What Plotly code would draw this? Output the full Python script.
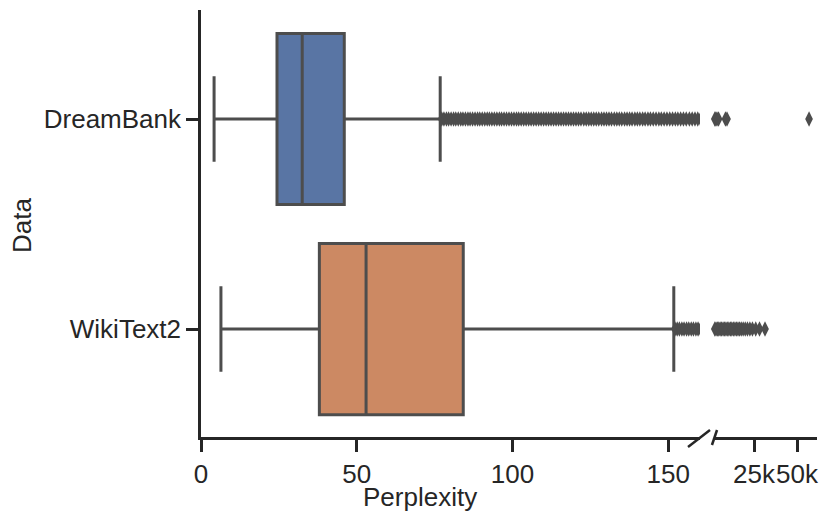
import plotly.graph_objects as go

# categories and box statistics
datasets = ["DreamBank", "WikiText2"]
q1 = [24.4, 38.0]
medians = [32.5, 53.0]
q3 = [46.0, 84.2]
lower_whisker = [4.2, 6.4]
upper_whisker = [76.8, 151.8]

# outliers below the axis break (perplexity 0-160)
dreambank_out_low = [77.3, 78.0, 78.8, 79.5, 80.3, 81.1, 81.8, 82.6, 83.4, 84.1, 84.9, 85.7,
                     86.4, 87.2, 88.0, 88.8, 89.5, 90.3, 91.1, 91.9, 92.6, 93.4, 94.2, 95.0,
                     95.8, 96.5, 97.3, 98.1, 98.9, 99.7, 100.5, 101.3, 102.0, 102.8, 103.6,
                     104.4, 105.2, 106.0, 106.8, 107.6, 108.4, 109.2, 110.0, 110.8, 111.6,
                     112.4, 113.2, 114.0, 114.8, 115.6, 116.4, 117.2, 118.0, 118.8, 119.6,
                     120.4, 121.2, 122.0, 122.9, 123.7, 124.5, 125.3, 126.1, 126.9, 127.7,
                     128.6, 129.4, 130.2, 131.0, 131.8, 132.7, 133.5, 134.3, 135.1, 136.0,
                     136.8, 137.6, 138.4, 139.3, 140.1, 140.9, 141.8, 142.6, 143.5, 144.3,
                     145.2, 146.1, 147.0, 147.8, 148.7, 149.6, 150.5, 151.4, 152.3, 153.1,
                     154.0, 154.9, 155.8, 156.8, 157.7, 158.6, 159.5, 160.4, 161.2]
wikitext_out_low = [152.2, 152.9, 153.6, 154.4, 155.1, 155.9, 156.6, 157.4, 158.1, 158.9,
                    159.6, 160.4, 161.2]

# outliers above the axis break
dreambank_out_high = [2200, 2800, 3500, 4400, 8400, 9300, 57000]
wikitext_out_high = [2200, 2900, 3700, 4500, 5300, 6100, 7000, 7800, 8700, 9500, 10400,
                     11300, 12100, 13000, 13900, 14800, 15700, 16600, 17600, 18700, 19900,
                     21200, 22600, 24100, 26000, 28200, 31400]

fills = ["#5975a4", "#cc8963"]
edge = "#4d4d4d"
axis_col = "#262626"
font = "Liberation Sans, Arial, sans-serif"

fig = go.Figure()

for i, name in enumerate(datasets):
    fig.add_trace(go.Box(
        y=[name], q1=[q1[i]], median=[medians[i]], q3=[q3[i]],
        lowerfence=[lower_whisker[i]], upperfence=[upper_whisker[i]],
        orientation="h", width=0.815, whiskerwidth=0.5, boxpoints=False,
        fillcolor=fills[i], line=dict(color=edge, width=3),
        xaxis="x", yaxis="y", showlegend=False, hoverinfo="skip"))

outliers_low = [dreambank_out_low, wikitext_out_low]
outliers_high = [dreambank_out_high, wikitext_out_high]
for i, name in enumerate(datasets):
    fig.add_trace(go.Scatter(
        x=outliers_low[i], y=[name] * len(outliers_low[i]), mode="markers",
        marker=dict(symbol="diamond-tall", size=11, color=edge),
        xaxis="x", yaxis="y", showlegend=False))
    fig.add_trace(go.Scatter(
        x=outliers_high[i], y=[name] * len(outliers_high[i]), mode="markers",
        marker=dict(symbol="diamond-tall", size=11, color=edge),
        xaxis="x2", yaxis="y", showlegend=False, cliponaxis=False))

tick_font = dict(family=font, size=26, color=axis_col)
common = dict(showline=True, linecolor=axis_col, linewidth=2.5, ticks="outside",
              ticklen=12, tickwidth=2.5, tickcolor=axis_col, showgrid=False,
              zeroline=False, tickfont=tick_font, automargin=False, tickangle=0)

# the page body adds an 8px offset, so margins are 8px smaller on the left/top
fig.update_layout(
    width=830, height=526,
    margin=dict(l=193, r=21, t=2, b=97),
    plot_bgcolor="white", paper_bgcolor="white",
    xaxis=dict(domain=[0, 0.81], range=[0, 160.2], tickvals=[0, 50, 100, 150], **common),
    xaxis2=dict(domain=[0.8328, 1.0], range=[1744, 61628], anchor="y",
                tickvals=[25000, 50000], ticktext=["25k", "50k"], **common),
    yaxis=dict(range=[1.514, -0.519], categoryorder="array", categoryarray=datasets,
               anchor="x", **common),
)

# broken-axis slash marks
for x0, y0, x1, y1 in [(0.7906, -0.0234, 0.8263, 0.0164), (0.8295, -0.0187, 0.8377, 0.0164)]:
    fig.add_shape(type="line", xref="paper", yref="paper", x0=x0, y0=y0, x1=x1, y1=y1,
                  line=dict(color=axis_col, width=2.5))

fig.add_annotation(text="Perplexity", xref="paper", yref="paper", x=0.3555, y=-0.1405,
                   showarrow=False, xanchor="center", yanchor="middle",
                   font=dict(family=font, size=26, color=axis_col))
fig.add_annotation(text="Data", xref="paper", yref="paper", x=-0.2906, y=0.4965,
                   showarrow=False, textangle=-90, xanchor="center", yanchor="middle",
                   font=dict(family=font, size=26, color=axis_col))

fig.write_html("out.html")
